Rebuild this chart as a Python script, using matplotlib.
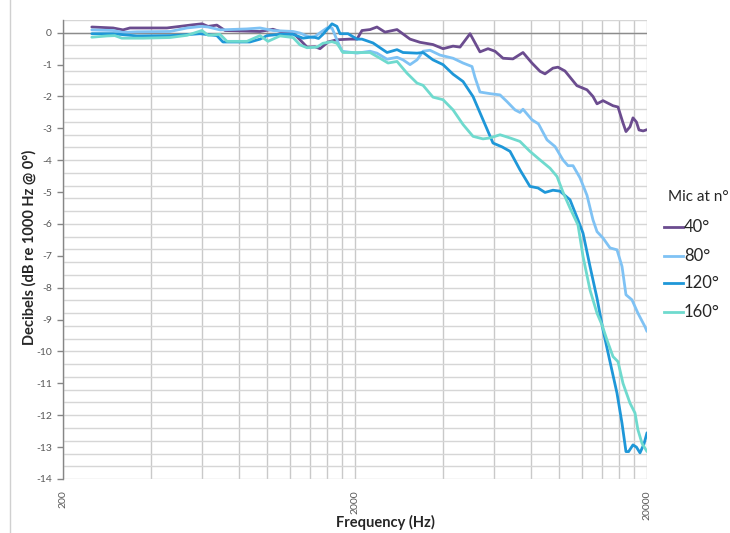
import matplotlib
matplotlib.use("Agg")
import matplotlib.pyplot as plt
from matplotlib.ticker import FixedLocator, NullFormatter, NullLocator
from matplotlib.lines import Line2D

plt.rcParams['font.family'] = ['Lato', 'DejaVu Sans']

# ---- data (frequency in Hz, level in dB) ----
f40 = [251, 297, 321, 339, 454, 503, 557, 598, 628, 673, 718, 946, 1047, 1107, 1227,
       1296, 1370, 1459, 1518, 1616, 1734, 1923, 2032, 2113, 2252, 2378, 2533, 2786,
       3087, 3340, 3698, 4004, 4333, 4578, 4955, 5358, 5708, 6033, 6427, 6950, 7522,
       8072, 8604, 8948, 9528, 9910, 10475, 11069, 11508, 12460, 13062, 13486, 14137,
       15298, 15914, 16552, 16944, 17490, 17908, 18400, 18778, 19400, 20000]
db40 = [0.18, 0.15, 0.09, 0.15, 0.15, 0.20, 0.25, 0.28, 0.20, 0.24, 0.07, 0.04, 0.11,
        0.04, 0.00, -0.22, -0.45, -0.44, -0.50, -0.29, -0.22, -0.20, -0.20, 0.07, 0.10,
        0.18, 0.02, 0.10, -0.20, -0.30, -0.37, -0.50, -0.42, -0.45, -0.03, -0.60, -0.50,
        -0.58, -0.80, -0.82, -0.62, -0.95, -1.21, -1.29, -1.11, -1.08, -1.20, -1.47,
        -1.66, -1.79, -2.00, -2.23, -2.13, -2.29, -2.33, -2.83, -3.10, -2.95, -2.67,
        -2.80, -3.05, -3.08, -3.04]

f80 = [251, 297, 321, 358, 465, 532, 598, 628, 690, 853, 946, 1047, 1227, 1296, 1370,
       1436, 1518, 1604, 1668, 1734, 1805, 2032, 2252, 2378, 2575, 2786, 2920, 3087,
       3262, 3420, 3613, 3908, 4333, 4689, 5032, 5152, 5358, 5799, 6275, 6630, 7063,
       7345, 7522, 8072, 8500, 9090, 9683, 10312, 10726, 11160, 11790, 12460, 13062,
       13486, 14137, 14940, 15788, 16422, 16944, 17768, 18622, 19680, 20000]
db80 = [0.09, 0.07, 0.01, 0.03, 0.04, 0.15, 0.20, 0.18, 0.09, 0.12, 0.15, 0.07, 0.04,
        -0.01, -0.10, -0.16, 0.00, 0.15, 0.15, -0.22, -0.58, -0.64, -0.58, -0.64, -0.83,
        -0.77, -0.85, -1.00, -0.85, -0.58, -0.55, -0.70, -0.80, -0.95, -1.06, -1.40,
        -1.86, -1.91, -1.95, -2.16, -2.42, -2.50, -2.40, -2.73, -2.86, -3.36, -3.57,
        -3.99, -4.17, -4.17, -4.55, -5.10, -5.87, -6.24, -6.44, -6.75, -6.81, -7.33,
        -8.22, -8.38, -8.80, -9.22, -9.37]

f120 = [251, 297, 321, 358, 465, 532, 589, 673, 706, 873, 946, 999, 1107, 1227, 1327,
        1436, 1500, 1553, 1668, 1734, 1777, 1893, 2032, 2113, 2305, 2575, 2786, 2920,
        3262, 3420, 3698, 4004, 4333, 4689, 5072, 5488, 5938, 6375, 6790, 7345, 7944,
        8468, 8948, 9528, 10070, 10897, 11606, 12078, 12760, 13486, 14137, 14940,
        15788, 16422, 16944, 17300, 17908, 18400, 18924, 19532, 20000]
db120 = [-0.03, -0.03, -0.06, -0.10, -0.09, -0.06, -0.03, -0.09, -0.29, -0.29, -0.20,
         -0.09, -0.05, -0.05, -0.17, -0.13, -0.18, -0.05, 0.28, 0.20, -0.03, -0.03,
         -0.20, -0.20, -0.32, -0.62, -0.53, -0.62, -0.64, -0.62, -0.85, -1.00, -1.30,
         -1.53, -2.00, -2.73, -3.46, -3.58, -3.72, -4.30, -4.82, -4.87, -5.01, -4.94,
         -4.97, -5.24, -5.87, -6.29, -7.33, -8.33, -9.32, -10.32, -11.31, -12.25,
         -13.14, -13.14, -12.93, -13.00, -13.18, -12.90, -12.55]

f160 = [251, 283, 301, 318, 376, 465, 532, 598, 628, 690, 729, 853, 946, 1007, 1107,
        1227, 1296, 1370, 1482, 1553, 1668, 1734, 1820, 2252, 2436, 2595, 2786, 3014,
        3262, 3420, 3698, 4004, 4333, 4689, 5072, 5488, 5799, 6275, 6790, 7345, 7944,
        8604, 9308, 9837, 10312, 10897, 11606, 12078, 12760, 13486, 14030, 14590,
        15298, 15914, 16552, 17490, 18196, 18622, 19228, 20000]
db160 = [-0.14, -0.10, -0.09, -0.17, -0.17, -0.15, -0.08, 0.07, -0.08, -0.05, -0.27,
         -0.27, -0.09, -0.27, -0.10, -0.15, -0.38, -0.47, -0.45, -0.33, -0.28, -0.33,
         -0.62, -0.62, -0.80, -0.95, -0.90, -1.27, -1.58, -1.65, -2.02, -2.10, -2.42,
         -2.88, -3.25, -3.33, -3.30, -3.20, -3.30, -3.41, -3.72, -3.99, -4.25, -4.51,
         -5.00, -5.50, -6.03, -7.02, -8.07, -8.80, -9.17, -9.64, -10.16, -10.32,
         -11.00, -11.62, -11.93, -12.46, -12.88, -13.14]

series_labels = ['40°', '80°', '120°', '160°']
series_colors = ['#6B4C8F', '#7FC2F4', '#1E97D8', '#6FDACE']
x_ticks = [200, 2000, 20000]
x_tick_labels = ['200', '2000', '20000']
y_ticks = list(range(0, -15, -1))

# ---- figure ----
fig = plt.figure(figsize=(7.30, 5.33), dpi=100)
ax = fig.add_axes([63/730, 1-479/533, (647-63)/730, (479-20)/533])

for fx, dy, lab, col in zip([f40, f80, f120, f160], [db40, db80, db120, db160],
                            series_labels, series_colors):
    ax.plot(fx, dy, color=col, lw=2.0, label=lab, solid_joinstyle='round',
            solid_capstyle='round', zorder=3)

ax.set_xscale('log')
ax.set_xlim(200, 20000)
ax.set_ylim(-14, 0.4)

# grid lines
vgrid = [200 * k for k in range(1, 11)] + [2000 * k for k in range(2, 11)]
for v in vgrid:
    ax.axvline(v, color='#C9C9C9', lw=1.0, zorder=1)
hgrid = [0.4 - 0.4 * i for i in range(37)]
for h in hgrid:
    ax.axhline(h, color='#D6D6D6', lw=1.0, zorder=1)
ax.axhline(0, color='#8C8C8C', lw=1.0, zorder=2)

ax.xaxis.set_major_locator(FixedLocator(x_ticks))
ax.xaxis.set_minor_locator(NullLocator())
ax.xaxis.set_minor_formatter(NullFormatter())
ax.set_xticklabels(x_tick_labels, rotation=90, fontsize=7.5, color='#595959')
ax.tick_params(axis='x', length=0, pad=8)

ax.set_yticks(y_ticks)
ax.set_yticklabels([str(v) for v in y_ticks], fontsize=7.5, color='#595959')
ax.tick_params(axis='y', length=4, color='#868686', width=1, direction='out', pad=4)

for s in ['top', 'right', 'bottom']:
    ax.spines[s].set_visible(False)
ax.spines['left'].set_color('#868686')
ax.spines['left'].set_linewidth(1.0)

fig.text(29/730, 1-247/533, 'Decibels (dB re 1000 Hz @ 0°)', rotation=90,
         ha='center', va='center', fontsize=10.5, fontweight='bold', color='#262626')
fig.text(385/730, 1-522/533, 'Frequency (Hz)', ha='center', va='center',
         fontsize=10.5, fontweight='bold', color='#262626')

# legend
fig.text(668/730, 1-197/533, 'Mic at n°', ha='left', va='center', fontsize=11,
         color='#262626')
ly = [227, 256, 283, 312]
for yy, lab, col in zip(ly, series_labels, series_colors):
    fig.add_artist(Line2D([664/730, 683/730], [1-yy/533, 1-yy/533], color=col,
                          lw=2.0, transform=fig.transFigure))
    fig.text(684/730, 1-yy/533, lab, ha='left', va='center', fontsize=12,
             color='#262626')

# outer chart border (left edge visible)
fig.add_artist(Line2D([10/730, 10/730], [0, 1], color='#D0D0D0', lw=1.0,
                      transform=fig.transFigure))

fig.savefig('out.png', dpi=100)
